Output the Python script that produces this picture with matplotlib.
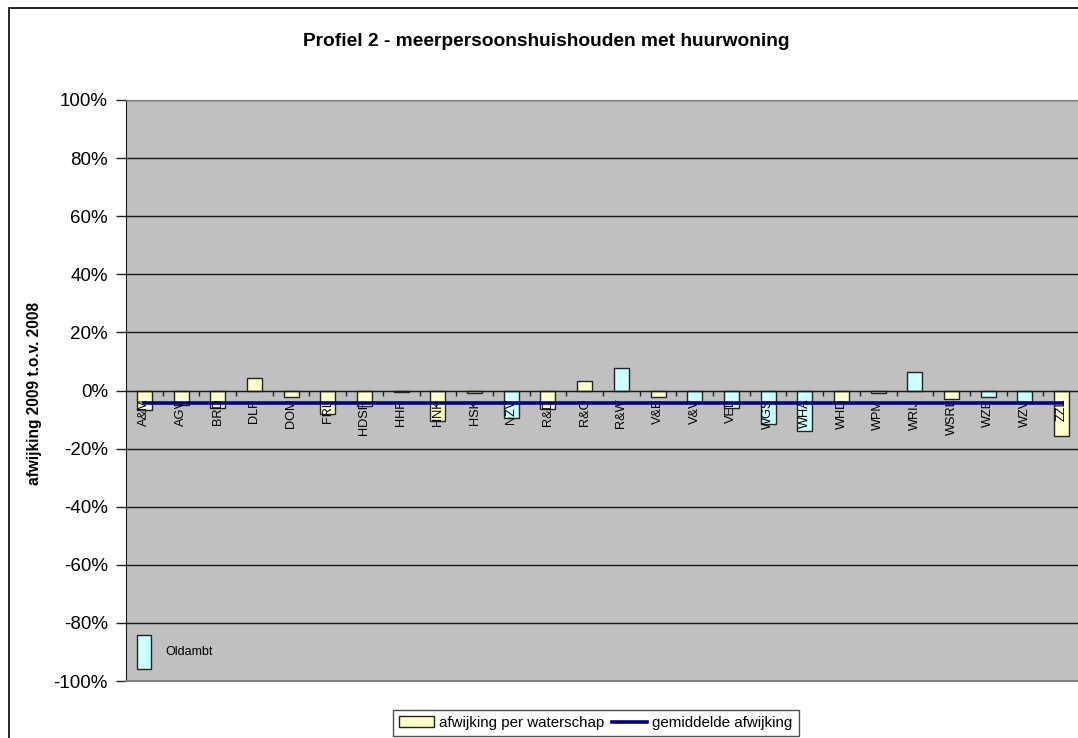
import matplotlib
matplotlib.use("Agg")
import matplotlib.pyplot as plt
import matplotlib.patches as mpatches
from matplotlib.lines import Line2D
import numpy as np

plt.rcParams['font.family'] = ['Liberation Sans', 'DejaVu Sans']

categories = ["A&M", "AGV", "BRD", "DLF", "DOM", "FRL", "HDSR", "HHR", "HNK", "HSK",
              "NZV", "R&D", "R&O", "R&W", "V&E", "V&V", "VEL", "WGS", "WHA", "WHD",
              "WPM", "WRIJ", "WSRL", "WZE", "WZV", "ZZL"]
afwijking = [-0.067, -0.050, -0.061, 0.044, -0.021, -0.081, -0.052, -0.005, -0.105, -0.010,
             -0.096, -0.064, 0.033, 0.078, -0.023, -0.039, -0.061, -0.115, -0.139, -0.039,
             -0.010, 0.065, -0.030, -0.023, -0.039, -0.157]
oldambt = [False, False, False, False, False, False, False, False, False, False,
           True, False, False, True, False, True, True, True, True, False,
           False, True, False, True, True, False]
gemiddelde = -0.042
oldambt_low, oldambt_high = -0.96, -0.84
yticks = [-1.0, -0.8, -0.6, -0.4, -0.2, 0.0, 0.2, 0.4, 0.6, 0.8, 1.0]

YELLOW = "#FFFFCC"
CYAN = "#CCFFFF"
NAVY = "#000080"

W, H = 1078, 738
fig = plt.figure(figsize=(W / 100, H / 100), dpi=100)
ax = fig.add_axes([126 / W, 57 / H, (1080 - 126) / W, 581 / H])
ax.set_facecolor("#C0C0C0")

x = np.arange(len(categories))
colors = [CYAN if o else YELLOW for o in oldambt]
ax.bar(x, afwijking, width=0.41, color=colors, edgecolor="#222222", linewidth=1, zorder=1.5)
ax.plot(x, [gemiddelde] * len(x), color=NAVY, linewidth=2.6, zorder=3.5)

# Oldambt legend bar
ax.bar([0], [oldambt_high - oldambt_low], bottom=[oldambt_low], width=0.38,
       color=CYAN, edgecolor="#222222", linewidth=1, zorder=1.5)
ax.text(0.56, (oldambt_low + oldambt_high) / 2, "Oldambt", fontsize=9, va="center", ha="left")

ax.set_xlim(-0.5, len(categories) - 0.5)
ax.set_ylim(-1.0, 1.0)
ax.set_yticks(yticks)
ax.set_yticklabels([f"{int(round(v * 100))}%" for v in yticks])
ax.tick_params(axis='y', length=7, width=1, color="#222222", pad=6, labelsize=13.5, direction='out')
ax.yaxis.grid(True, color="#1a1a1a", linewidth=1)

ax.set_xticks(x)
ax.set_xticklabels(categories)
ax.set_xticks(np.arange(len(categories) - 1) + 0.5, minor=True)
ax.tick_params(axis='x', which='major', length=0, pad=6, labelsize=9.2, labelrotation=90)
ax.tick_params(axis='x', which='minor', length=3.5, width=1, color="#222222", direction='out')

ax.spines['bottom'].set_position(('data', 0))
ax.spines['bottom'].set_color("#1a1a1a")
ax.spines['left'].set_color("#1a1a1a")
for s in ['top', 'right']:
    ax.spines[s].set_color("#808080")
ax.plot([0, 1], [0, 0], transform=ax.transAxes, color="#808080", linewidth=1.5, clip_on=False, zorder=4)

# figure border
fig.patches.append(mpatches.Rectangle((9 / W, -0.05), 1.2, 1 - 8 / H + 0.05, transform=fig.transFigure,
                                      fill=False, edgecolor="black", linewidth=1.2))

fig.text(546 / W, 1 - 42 / H, "Profiel 2 - meerpersoonshuishouden met huurwoning",
         ha="center", va="center", fontsize=13.8, fontweight="bold")
fig.text(35 / W, 1 - 393 / H, "afwijking 2009 t.o.v. 2008", rotation=90,
         ha="center", va="center", fontsize=11.2, fontweight="bold")

handles = [mpatches.Patch(facecolor=YELLOW, edgecolor="#222222", linewidth=1),
           Line2D([], [], color=NAVY, linewidth=2.6)]
leg = fig.legend(handles, ["afwijking per waterschap", "gemiddelde afwijking"],
                 loc="upper center", bbox_to_anchor=(596 / W, 1 - 710 / H), ncol=2,
                 fontsize=10.9, frameon=True, fancybox=False, shadow=False,
                 handlelength=2.3, handleheight=0.7, handletextpad=0.35, columnspacing=0.5,
                 borderpad=0.4, borderaxespad=0)
leg.get_frame().set_edgecolor("#222222")
leg.get_frame().set_linewidth(1)

fig.savefig("out.png", dpi=100)
